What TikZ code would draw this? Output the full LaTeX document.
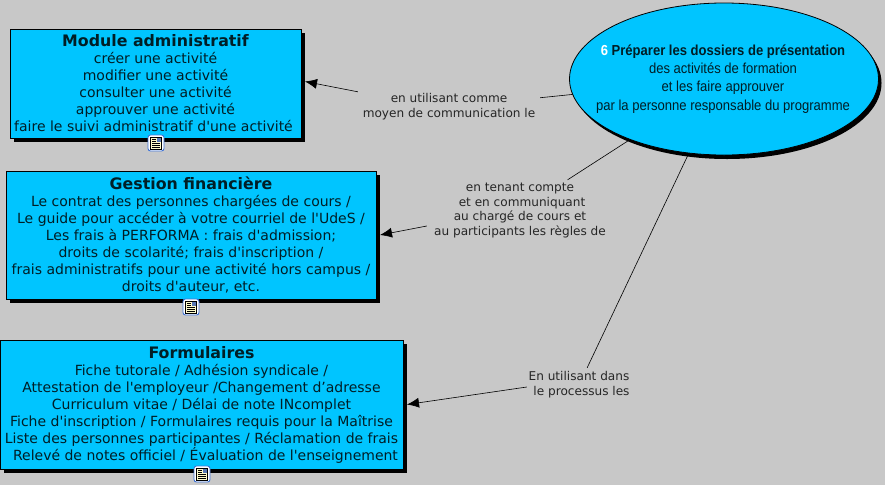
\documentclass[tikz,border=0pt]{standalone}
\usepackage{fontspec}
\usepackage{xcolor}
\usetikzlibrary{calc, shapes.geometric, shadows, arrows.meta}
\newfontfamily\boxfont{DejaVu Sans}
\newfontfamily\ellfont[FakeStretch=0.9]{Liberation Sans}
\definecolor{cmapblue}{HTML}{00C5FF}
\definecolor{cmapgrey}{HTML}{C8C8C8}
\definecolor{iconblue}{HTML}{3F73D6}
\tikzset{
infobox/.style={rectangle, draw=black, fill=cmapblue, line width=0.8pt, align=center, inner sep=0pt, outer sep=0pt, text=black!85!cmapblue,
 font=\boxfont\fontsize{14}{17}\selectfont, drop shadow={shadow xshift=4pt, shadow yshift=-4pt, opacity=1, fill=black}},
linklabel/.style={align=center, inner sep=0pt, text=black!85, font=\boxfont\fontsize{12.1}{14.7}\selectfont},
linkline/.style={draw=black, line width=0.6pt},
linkarrow/.style={draw=black, line width=0.6pt, -{Latex[length=12pt,width=10pt]}},
noteicon/.pic={
 \draw[iconblue, fill=white, line width=0.9pt, rounded corners=2.5pt] (-8,-8) rectangle (8,8);
 \draw[black, fill=yellow!20, line width=0.6pt] (-5.5,-6) rectangle (5.5,6);
 \fill[iconblue!60!gray] (0.5,-5.5) rectangle (5,-1);
 \foreach \ly in {-4,-2} {\draw[black, line width=0.7pt] (-4,\ly) -- (-0.5,\ly);}
 \foreach \ly in {0.5,2.5,4.5} {\draw[black, line width=0.7pt] (-4,\ly) -- (4,\ly);}
}}
\newcommand{\boxtitle}[1]{{\bfseries\fontsize{15.8}{17}\selectfont #1}}
\begin{document}
\begin{tikzpicture}[x=1pt,y=-1pt]
 %Background
 \fill[cmapgrey] (0,0) rectangle (885,485);
 \useasboundingbox (0,0) rectangle (885,485);

 %Drawing the three boxes
 \node[infobox, minimum width=291pt, minimum height=109pt] (modbox) at (155.5,83.5) {\boxtitle{Module administratif}\\
 créer une activité\\modifier une activité\\consulter une activité\\approuver une activité\\faire le suivi administratif d'une activité\hspace*{4pt}};
 \node[infobox, minimum width=370pt, minimum height=128pt] (finbox) at (191,235) {\boxtitle{Gestion financière}\\
 Le contrat des personnes chargées de cours /\\Le guide pour accéder à votre courriel de l'UdeS /\\Les frais à PERFORMA : frais d'admission;\\droits de scolarité; frais d'inscription /\\frais administratifs pour une activité hors campus /\\droits d'auteur, etc.};
 \node[infobox, minimum width=403pt, minimum height=129pt] (formbox) at (201.5,404.5) {\boxtitle{Formulaires}\\
 Fiche tutorale / Adhésion syndicale /\\Attestation de l'employeur /Changement d’adresse\\Curriculum vitae / Délai de note INcomplet\\Fiche d'inscription / Formulaires requis pour la Maîtrise\\Liste des personnes participantes / Réclamation de frais\\\hspace*{8pt}Relevé de notes officiel / Évaluation de l'enseignement};

 %Drawing the ellipse
 \node[ellipse, draw=black, fill=cmapblue, line width=0.8pt, inner sep=0pt, minimum width=309pt, minimum height=152pt, drop shadow={shadow xshift=3pt, shadow yshift=-4pt, opacity=1, fill=black}] (prepell) at (724,79) {};
 \node[align=center, inner sep=0pt, text=black!85!cmapblue, font=\ellfont\fontsize{14.5}{18.3}\selectfont] (preptext) at (723,79)
 {{\bfseries\color{white}6} \textbf{Préparer les dossiers de présentation}\\des activités de formation\\et les faire approuver\\par la personne responsable du programme};

 %Labels on the links
 \node[linklabel, minimum width=182pt, minimum height=30pt] (labelone) at (449,107) {en utilisant comme\\moyen de communication le};
 \node[linklabel, minimum width=186pt, minimum height=61pt] (labeltwo) at (520,210.5) {en tenant compte\\\hspace*{4pt}et en communiquant\\au chargé de cours et\\au participants les règles de};
 \node[linklabel, minimum width=104pt, minimum height=34pt] (labelthree) at (579,385) {En utilisant dans\\\hspace*{5pt}le processus les};

 %Drawing the links
 \draw[linkline] (prepell) -- (labelone);
 \draw[linkline] (prepell) -- (labeltwo);
 \draw[linkline] (prepell) -- (labelthree);
 \draw[linkarrow] (labelone.north west) -- ([xshift=4pt,yshift=2pt]modbox.east);
 \draw[linkarrow] ([yshift=-15.5pt]labeltwo.west) -- ([xshift=4pt]finbox.east);
 \draw[linkarrow] ([yshift=-2pt]labelthree.west) -- ([xshift=4pt]formbox.east);

 %Note icons under the boxes
 \pic at (156,143) {noteicon};
 \pic at (191,307) {noteicon};
 \pic at (202,474) {noteicon};
\end{tikzpicture}
\end{document}
